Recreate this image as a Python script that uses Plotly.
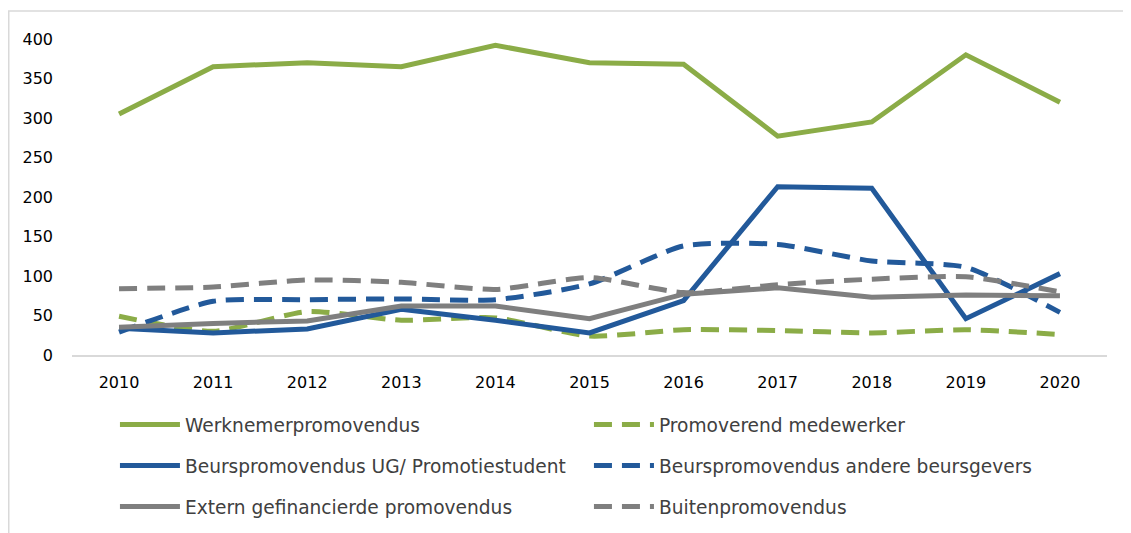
import plotly.graph_objects as go

years = ["2010", "2011", "2012", "2013", "2014", "2015", "2016", "2017", "2018", "2019", "2020"]

werknemer = [305, 365, 370, 365, 392, 370, 368, 277, 295, 380, 320]
medewerker = [49, 30, 55, 44, 47, 24, 32, 31, 28, 32, 26]
beurs_ug = [34, 28, 33, 58, 44, 28, 69, 213, 211, 46, 103]
beurs_andere = [29, 68, 70, 71, 70, 90, 138, 140, 119, 111, 54]
extern = [35, 40, 43, 62, 62, 46, 77, 85, 73, 76, 75]
buiten = [84, 86, 95, 92, 83, 98, 79, 89, 96, 99, 80]

GREEN = "#8BAC47"
BLUE = "#22599A"
GREY = "#7F7F7F"
DASH = "18px,10px"

fig = go.Figure()

series = [
    ("Werknemerpromovendus", werknemer, GREEN, "solid", "linear", "legend"),
    ("Promoverend medewerker", medewerker, GREEN, DASH, "spline", "legend"),
    ("Beurspromovendus UG/ Promotiestudent", beurs_ug, BLUE, "solid", "linear", "legend2"),
    ("Beurspromovendus andere beursgevers", beurs_andere, BLUE, DASH, "spline", "legend2"),
    ("Extern gefinancierde promovendus", extern, GREY, "solid", "linear", "legend3"),
    ("Buitenpromovendus", buiten, GREY, DASH, "spline", "legend3"),
]

for name, vals, col, dash, shape, leg in series:
    fig.add_trace(go.Scatter(
        x=years, y=vals, name=name, mode="lines",
        line=dict(color=col, width=5, dash=dash, shape=shape, smoothing=0.6),
        legend=leg,
    ))

# one legend per row, two entries each -> two-column layout like the original
legend_style = dict(
    orientation="h", x=0.0415, xanchor="left", yanchor="middle", yref="container",
    font=dict(family="DejaVu Sans", size=18.6, color="#404040"),
    entrywidth=399, entrywidthmode="pixels", bgcolor="rgba(0,0,0,0)",
    traceorder="normal", itemwidth=60,
)

# page body has an 8px margin, so the figure is 8px smaller than the window
fig.update_layout(
    width=1123, height=525,
    margin=dict(l=64, r=24, t=31, b=178),
    paper_bgcolor="white", plot_bgcolor="white",
    font=dict(family="DejaVu Sans", size=16, color="black"),
    showlegend=True,
    legend=dict(legend_style, y=0.2057),
    legend2=dict(legend_style, y=0.1276),
    legend3=dict(legend_style, y=0.0495),
    xaxis=dict(
        type="category", showgrid=False, showline=True, linecolor="#D9D9D9",
        linewidth=2, ticks="", ticklabelstandoff=12, range=[-0.5, 10.5],
        zeroline=False,
    ),
    yaxis=dict(
        range=[0, 400], tickvals=[0, 50, 100, 150, 200, 250, 300, 350, 400],
        showgrid=False, zeroline=False, showline=False, ticks="",
        ticklabelstandoff=18,
    ),
)

# outer chart frame (light grey border)
fig.add_shape(type="rect", xref="paper", yref="paper",
              x0=-0.0611, x1=1.04, y0=-0.62, y1=1.0886,
              line=dict(color="#D9D9D9", width=1.5), layer="below")

fig.write_html("out.html")
